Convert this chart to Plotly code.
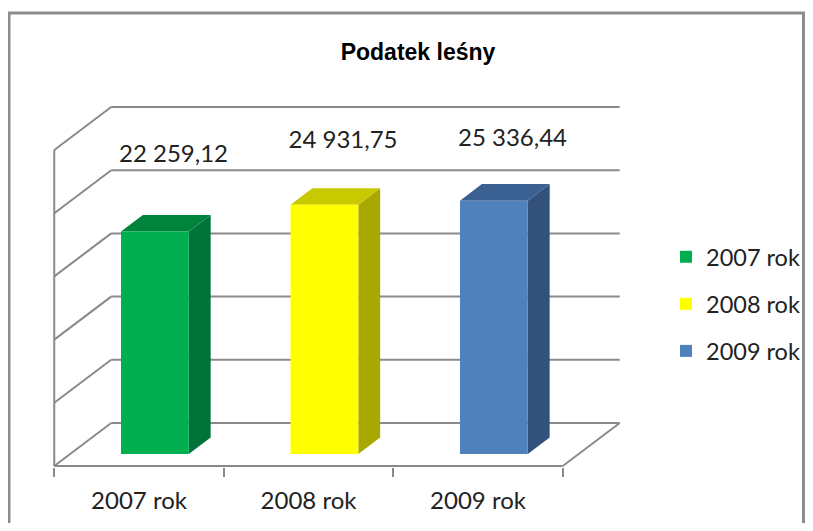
import plotly.graph_objects as go

# ---- data ----
categories = ["2007 rok", "2008 rok", "2009 rok"]
values = [22259.12, 24931.75, 25336.44]
front_colors = ["#00B050", "#FFFF00", "#4F81BD"]
top_colors = ["#00843C", "#C9C900", "#3B6193"]
side_colors = ["#00733A", "#A8A800", "#32527C"]
title_text = "Podatek leśny"

# ---- 3D geometry (axis units) ----
DX = 0.336          # x shift for full floor depth
DY = 4300.0         # y shift for full floor depth
D_FRONT = 0.279     # depth of bar front faces
BAR_DEPTH = 0.384   # bar depth (fraction of floor depth)
GRID = 6320.0       # gridline step
N_GRID = 5
BAR_W = 0.4
S = D_FRONT * DX
bdx, bdy = BAR_DEPTH * DX, BAR_DEPTH * DY
LABEL_A, LABEL_B, LABEL_DX = 18600.0, 0.504, 0.11

GRAY = "#8a8a8a"
FONT = "Lato"
OFF = 8  # page body margin

def fmt(v):
    return f"{v:,.2f}".replace(",", " ").replace(".", ",")

fig = go.Figure()
n = len(categories)
for i, (c, v) in enumerate(zip(categories, values)):
    fig.add_trace(go.Bar(
        x=[i], y=[v], name=c, width=BAR_W, offset=S - BAR_W / 2,
        marker=dict(color=front_colors[i], line=dict(width=0)),
        showlegend=True, legendgroup=c, hoverinfo="skip"))

fig.add_trace(go.Scatter(
    x=[i + S + LABEL_DX for i in range(n)],
    y=[LABEL_A + LABEL_B * v for v in values],
    text=[fmt(v) for v in values], mode="text", textposition="middle center",
    textfont=dict(family=FONT, size=24, color="#222222"),
    showlegend=False, hoverinfo="skip"))

shapes = []
def line(x0, y0, x1, y1):
    shapes.append(dict(type="line", xref="x", yref="y", x0=x0, y0=y0, x1=x1, y1=y1,
                       line=dict(color=GRAY, width=2), layer="below"))

y_floor_front = -D_FRONT * DY
y_back0 = (1 - D_FRONT) * DY
xl, xr = -0.5, n - 0.5
for k in range(N_GRID + 1):
    h = k * GRID
    line(xl, h + y_floor_front, xl + DX, h + y_back0)          # left wall
    line(xl + DX, h + y_back0, xr + DX, h + y_back0)           # back wall
line(xl, y_floor_front, xl, N_GRID * GRID + y_floor_front)     # left front edge
line(xl, y_floor_front, xr, y_floor_front)                     # floor front edge
line(xr, y_floor_front, xr + DX, y_back0)                      # floor right edge

for i, v in enumerate(values):
    x0 = i + S - BAR_W / 2
    x1 = i + S + BAR_W / 2
    side = f"M{x1},0 L{x1 + bdx},{bdy} L{x1 + bdx},{v + bdy} L{x1},{v} Z"
    top = f"M{x0},{v} L{x1},{v} L{x1 + bdx},{v + bdy} L{x0 + bdx},{v + bdy} Z"
    shapes.append(dict(type="path", xref="x", yref="y", path=side,
                       fillcolor=side_colors[i], line=dict(width=0), layer="below"))
    shapes.append(dict(type="path", xref="x", yref="y", path=top,
                       fillcolor=top_colors[i], line=dict(width=0), layer="below"))

# figure size / plot area (figure pixel coords = screen - OFF); no scrollbars
W, H = 813 - 2 * OFF, 531 - 2 * OFF
ML = 40 - OFF
MR = W - (640 - OFF)
MT = 100 - OFF
MB = H - (467 - OFF)
PW, PH = W - ML - MR, H - MT - MB
def px(x): return (x - OFF - ML) / PW          # screen x -> paper
def py(y): return (H - MB - (y - OFF)) / PH    # screen y -> paper

shapes.append(dict(type="rect", xref="paper", yref="paper",
                   x0=px(9), x1=px(803.5), y0=py(13), y1=py(560),
                   line=dict(color="#8c8c8c", width=3), layer="above"))

CAT_PX = 169.5
x_range = [(40 - 139) / CAT_PX, (640 - 139) / CAT_PX]
y_range = [(454 - 467) * 100.0, (454 - 100) * 100.0]

fig.update_layout(
    width=W, height=H,
    margin=dict(l=ML, r=MR, t=MT, b=MB, autoexpand=False),
    paper_bgcolor="white", plot_bgcolor="white",
    barmode="overlay",
    shapes=shapes,
    title=dict(text="<b>" + title_text + "</b>", x=(418 - OFF) / W, xanchor="center",
               y=1 - (52 - OFF) / H, yanchor="middle",
               font=dict(family="Liberation Sans", size=23, color="black")),
    xaxis=dict(range=x_range, showgrid=False, zeroline=False, showline=False,
               tickvals=list(range(n)), ticktext=categories, ticks="",
               ticklabelstandoff=17, automargin=False,
               tickfont=dict(family=FONT, size=24, color="#222222"),
               minor=dict(tickvals=[i - 0.5 for i in range(n + 1)], ticks="outside",
                          ticklen=9, tickwidth=2, tickcolor=GRAY, showgrid=False)),
    yaxis=dict(range=y_range, showgrid=False, zeroline=False, showline=False,
               showticklabels=False, ticks="", automargin=False),
    legend=dict(x=px(666), y=py(235), xanchor="left", yanchor="top",
                font=dict(family=FONT, size=23.5, color="#222222"),
                traceorder="grouped", tracegroupgap=13.5, bgcolor="rgba(0,0,0,0)"),
)

fig.write_html("out.html")
